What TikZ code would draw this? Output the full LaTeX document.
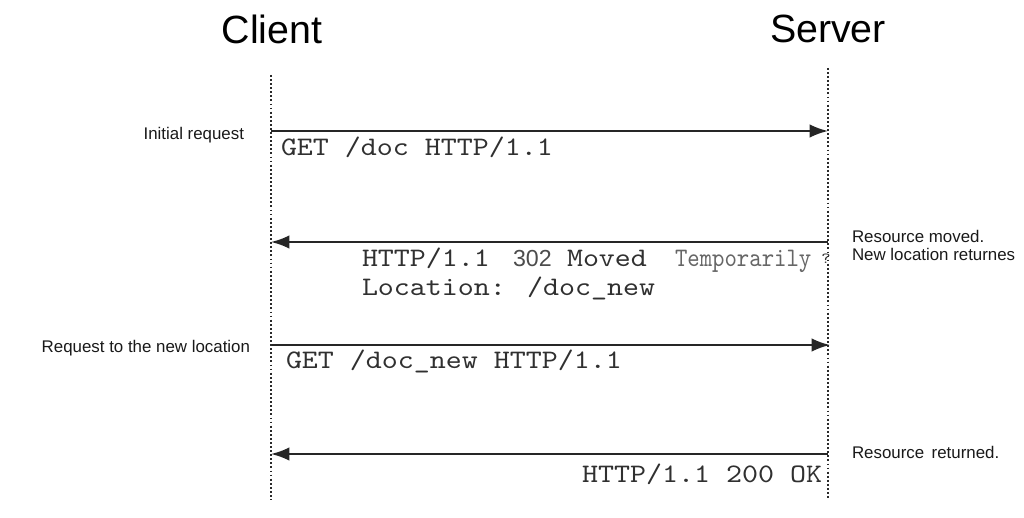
\documentclass[tikz,border=0pt]{standalone}
\usepackage{fontspec}
\setmainfont{Liberation Sans}
\newfontfamily\codefont{lmmono10-regular.otf}[FakeStretch=1.14]
\usepackage{graphicx}
\usepackage{tikz}
\usetikzlibrary{positioning,arrows.meta}
\definecolor{msgGray}{HTML}{262626}
\definecolor{codeGray}{HTML}{303030}
\definecolor{lineGray}{HTML}{2A2A2A}

\begin{document}
\begin{tikzpicture}[
  x=0.025cm, y=-0.025cm,
  every node/.style={inner sep=0pt, outer sep=0pt},
  party/.style={font=\fontsize{28}{30}\selectfont, text=black},
  lifeline/.style={draw=lineGray, line width=1.4pt, dash pattern=on 1.3pt off 1.6pt},
  msg/.style={draw=msgGray, line width=1.4pt, -{Latex[length=13pt,width=9.5pt]}},
  code/.style={font=\codefont\fontsize{19}{21}\selectfont, text=codeGray},
  note/.style={font=\fontsize{12}{12.5}\selectfont, text=black!90, align=left},
]
  \useasboundingbox (0,0) rectangle (1024,518);

  % parties and lifelines
  \node[party] (client) at (272,29) {Client};
  \node[party] (server) at (828,29) {Server};
  \coordinate (ctop) at (271,75);  \coordinate (cbot) at (271,500);
  \coordinate (stop) at (828,68);  \coordinate (sbot) at (828,500);
  \draw[lifeline] (ctop) -- (cbot);
  \draw[lifeline] (stop) -- (sbot);

  % message end points
  \coordinate (c1) at (271,131); \coordinate (s1) at (828,131);
  \coordinate (c2) at (271,242); \coordinate (s2) at (828,242);
  \coordinate (c3) at (271,345); \coordinate (s3) at (830,345);
  \coordinate (c4) at (271,454); \coordinate (s4) at (828,454);

  \draw[msg] (c1) -- (s1);
  \draw[msg] (s2) -- (c2);
  \draw[msg] (c3) -- (s3);
  \draw[msg] (s4) -- (c4);

  % message texts
  \node[code, anchor=base west] (get1) at (281,155) {GET /doc HTTP/1.1};
  \node[code, anchor=base west] (moved) at (362,266) {HTTP/1.1};
  \node[font=\fontsize{16.5}{18}\selectfont, text=black!70, anchor=base west] (code302) at (513,266) {302};
  \node[code, anchor=base west] (movedword) at (567,266) {Moved};
  \node[code, text=black!60, anchor=base west] (temp) at (675,266) {\scalebox{0.775}[1]{Temporarily}};
  \node[code, anchor=base west] (loc) at (362,295) {Location: /doc\_new};
  \node[font=\fontsize{11}{12}\selectfont\codefont, text=codeGray, anchor=base] (qmark) at (826,263) {?};
  \node[code, anchor=base west] (get2) at (286,368) {GET /doc\_new HTTP/1.1};
  \node[code, anchor=base east] (ok) at (822,482) {HTTP/1.1 200 OK};

  % notes
  \node[note, anchor=base east] (initreq) at (244,140) {Initial request};
  \node[note, anchor=base east] (newreq) at (250,352) {Request to the new location};
  \node[note, anchor=base west] (movednote) at (852,260) {Resource moved.\\New location returnes};
  \node[note, anchor=base west] (retnote) at (852,458) {Resource\ \,returned.};
\end{tikzpicture}
\end{document}
